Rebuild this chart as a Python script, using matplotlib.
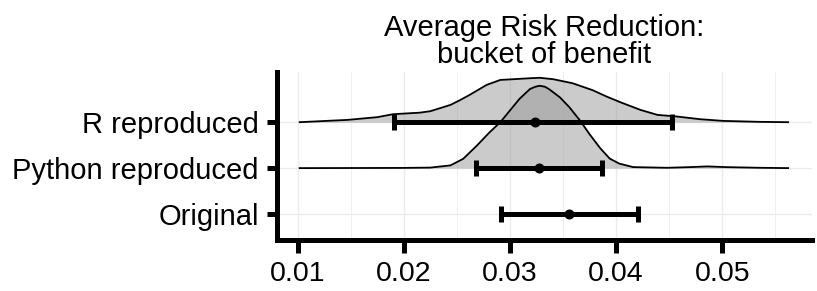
import matplotlib
matplotlib.use('Agg')  # no display
import numpy as np
import matplotlib.pyplot as plt
from matplotlib.ticker import MultipleLocator

plt.rcParams['font.family'] = ['Liberation Sans', 'DejaVu Sans']

# categories, bottom to top
categories = ['Original', 'Python reproduced', 'R reproduced']

# ridge densities (x value, ridge height in row units)
r_x = [0.0102, 0.0147, 0.0175, 0.0190, 0.0215, 0.0225, 0.0234, 0.0244, 0.0253,
       0.0262, 0.0278, 0.0291, 0.0307, 0.0319, 0.0328, 0.0341, 0.0359, 0.0378,
       0.0391, 0.0404, 0.0423, 0.0439, 0.0457, 0.0479, 0.0501, 0.0536, 0.0562]
r_h = [0.0, 0.050, 0.109, 0.174, 0.207, 0.239, 0.304, 0.376, 0.480,
       0.593, 0.811, 0.920, 0.941, 0.957, 0.967, 0.935, 0.848, 0.696,
       0.559, 0.435, 0.267, 0.159, 0.124, 0.065, 0.028, 0.007, 0.0]

py_x = [0.0102, 0.0197, 0.0225, 0.0244, 0.0256, 0.0269, 0.0281, 0.0291, 0.0300,
        0.0309, 0.0319, 0.0324, 0.0328, 0.0333, 0.0337, 0.0347, 0.0356, 0.0366,
        0.0375, 0.0385, 0.0394, 0.0403, 0.0416, 0.0448, 0.0470, 0.0486, 0.0503,
        0.0536, 0.0562]
py_h = [0.0, 0.004, 0.011, 0.059, 0.202, 0.493, 0.783, 1.000, 1.254,
        1.507, 1.724, 1.772, 1.793, 1.772, 1.717, 1.543, 1.326, 1.037,
        0.739, 0.435, 0.207, 0.098, 0.022, 0.007, 0.022, 0.037, 0.022,
        0.007, 0.0]

# point estimate and interval for each category (same order as categories)
est = [0.03559, 0.03274, 0.03236]
lo = [0.02916, 0.02681, 0.01911]
hi = [0.04203, 0.03870, 0.04524]

title = 'Average Risk Reduction:\nbucket of benefit'

fig = plt.figure(figsize=(8.17, 2.91), dpi=100)
ax = fig.add_axes([0.3387, 0.1753, 0.6552, 0.5773])

ypos = np.arange(1, len(categories) + 1)

# ridges: top row first so the lower one sits over it
ridges = [(ypos[2], r_x, r_h), (ypos[1], py_x, py_h)]
for i, (y0, xs, hs) in enumerate(ridges):
    xs = np.array(xs)
    hs = np.array(hs)
    ax.fill_between(xs, y0, y0 + hs, color='#999999', alpha=0.5, lw=0, zorder=2 + i)
    ax.plot(xs, y0 + hs, color='black', lw=1.3, solid_joinstyle='round', zorder=2 + i)

ax.errorbar(est, ypos, xerr=[np.array(est) - np.array(lo), np.array(hi) - np.array(est)],
            fmt='o', color='black', ms=6.2, elinewidth=3.6, capsize=5.6, capthick=3.6,
            zorder=5)

ax.set_xlim(0.00804, 0.05845)
ax.set_ylim(0.435, 4.093)
ax.set_yticks(ypos)
ax.set_yticklabels(categories)
ax.xaxis.set_minor_locator(MultipleLocator(0.005))
ax.set_xticks([0.01, 0.02, 0.03, 0.04, 0.05])
ax.set_xticklabels(['0.01', '0.02', '0.03', '0.04', '0.05'])

# minimal theme with heavy axis lines
ax.set_axisbelow(True)
ax.grid(which='major', color='#EBEBEB', lw=1.0)
ax.grid(which='minor', axis='x', color='#EBEBEB', lw=0.6)
for s in ['top', 'right']:
    ax.spines[s].set_visible(False)
for s in ['left', 'bottom']:
    ax.spines[s].set_linewidth(3.6)
    ax.spines[s].set_capstyle('projecting')
ax.tick_params(axis='x', which='major', length=9, width=3.6, labelsize=20.5, pad=6)
ax.tick_params(axis='x', which='minor', length=0)
ax.tick_params(axis='y', length=7, width=3.6, labelsize=21, pad=6)

ax.set_title(title, fontsize=21, linespacing=0.95, pad=6.3)

fig.savefig('out.png', dpi=100)
